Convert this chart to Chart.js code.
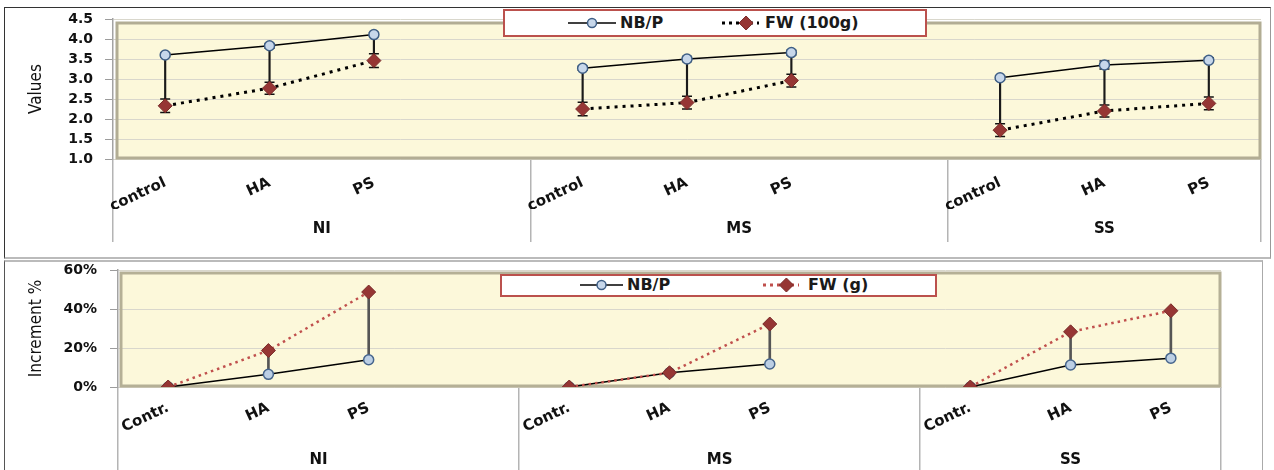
<!DOCTYPE html>
<html>
<head>
<meta charset="utf-8">
<title>NB/P and FW</title>
<script src="https://cdn.jsdelivr.net/npm/chart.js@4.4.1/dist/chart.umd.min.js"></script>
<style>
  body {
    margin: 0;
    width: 1274px;
    height: 470px;
    overflow: hidden;
    position: relative;
    background: #fff;
  }
  .box { position: absolute; box-sizing: border-box; }
  #box-top { left: 4px; top: 7px; width: 1267px; height: 252px; border: 1px solid #333; border-right-color: #999; border-bottom: 2px solid #bbb; }
  #box-bottom { left: 4px; top: 260px; width: 1259px; height: 230px; border: 1px solid #555; border-top: 2px solid #bbb; border-right-color: #aaa; }
  canvas { position: absolute; left: 0; }
  #chart-top { top: 0; }
  #chart-bottom { top: 258px; }
  .legend {
    position: absolute;
    background: #fff;
    border: 2px solid #bb514d;
    box-sizing: border-box;
    font: bold 16px 'DejaVu Sans', sans-serif;
    color: #1a1a1a;
  }
  .legend span, .legend svg { position: absolute; }
</style>
</head>
<body>
<div class="box" id="box-top"></div>
<div class="box" id="box-bottom"></div>
<canvas id="chart-top" width="1274" height="258"></canvas>
<canvas id="chart-bottom" width="1274" height="212"></canvas>
<div class="legend" id="legend-top" style="left:503px; top:9px; width:424px; height:28px;"></div>
<div class="legend" id="legend-bottom" style="left:500px; top:274px; width:437px; height:23px;"></div>

<script>
const groups = ['NI', 'MS', 'SS'];
const treatmentsTop = ['control', 'HA', 'PS'];
const treatmentsBottom = ['Contr.', 'HA', 'PS'];

const namesTop = ['NB/P', 'FW (100g)'];
const namesBottom = ['NB/P', 'FW (g)'];

// top panel, values per group: NI, MS, SS
const nbpValues = [3.60, 3.83, 4.11, 3.27, 3.50, 3.66, 3.03, 3.35, 3.47];
const nbpErrors = [0.05, 0.06, 0.05, 0.05, 0.06, 0.06, 0.05, 0.10, 0.06];
const fwValues = [2.33, 2.77, 3.46, 2.25, 2.41, 2.96, 1.72, 2.20, 2.39];
const fwErrors = [0.17, 0.15, 0.17, 0.17, 0.16, 0.16, 0.16, 0.15, 0.16];

// bottom panel, increment over control (%)
const nbpIncrement = [0, 6.5, 14.0, 0, 7.3, 11.8, 0, 11.3, 14.8];
const fwIncrement = [0, 18.7, 48.7, 0, 7.3, 32.3, 0, 28.3, 39.1];

const yTicksTop = [1.0, 1.5, 2.0, 2.5, 3.0, 3.5, 4.0, 4.5];
const yTicksBottom = [0, 20, 40, 60];

const tickFont = { family: 'DejaVu Sans', size: 14, weight: 'bold' };
const catFont = { family: 'DejaVu Sans', size: 15, weight: 'bold' };
const groupFont = { family: 'DejaVu Sans', size: 15, weight: 'bold' };
const titleFont = { family: "'Liberation Sans Narrow', 'DejaVu Sans Condensed', Roboto, sans-serif", size: 17 };


// each group gets its treatments plus one empty slot, except the last one
function slots(values) {
  let out = [];
  let n = values.length / groups.length;
  for (let g = 0; g < groups.length; g++) {
    for (let i = 0; i < n; i++) out.push(values[g * n + i]);
    if (g < groups.length - 1) out.push(null);
  }
  return out;
}

function slotLabels(treatments) {
  let out = [];
  groups.forEach((g, gi) => {
    treatments.forEach(t => out.push(t));
    if (gi < groups.length - 1) out.push('');
  });
  return out;
}

function groupStarts(treatments) {
  let starts = [];
  let pos = 0;
  groups.forEach((g, gi) => {
    starts.push(pos);
    pos += treatments.length + (gi < groups.length - 1 ? 1 : 0);
  });
  starts.push(pos);
  return starts;
}

function groupCenters(treatments) {
  let s = groupStarts(treatments);
  return groups.map((g, i) => (s[i] + s[i + 1]) / 2 - 0.5);
}

function pairs(a, b) {
  return a.map((v, i) => [Math.min(v, b[i]), Math.max(v, b[i])]);
}

function shift(values, errors, sign) {
  return values.map((v, i) => v + sign * errors[i]);
}


const plotFrame = {
  id: 'plotFrame',
  beforeDraw(chart, args, opts) {
    const { ctx, chartArea: a } = chart;
    ctx.save();
    ctx.fillStyle = opts.fill;
    ctx.fillRect(a.left + opts.inset, a.top + opts.inset, a.width - opts.inset - 1, a.height - opts.inset - 1);
    ctx.restore();
  },
  beforeDatasetsDraw(chart, args, opts) {
    const { ctx, chartArea: a } = chart;
    ctx.save();
    ctx.strokeStyle = opts.stroke;
    ctx.lineWidth = 3;
    ctx.strokeRect(a.left + opts.inset, a.top + opts.inset, a.width - opts.inset - 1, a.height - opts.inset - 1);
    ctx.restore();
  }
};


function errorDatasets(values, errors, color) {
  let cap = {
    type: 'line',
    xAxisID: 'x',
    showLine: false,
    pointStyle: 'line',
    pointRadius: 5,
    pointBorderColor: color,
    pointBorderWidth: 1.5,
    order: 3
  };
  return [
    { type: 'bar', xAxisID: 'x', data: slots(pairs(shift(values, errors, -1), shift(values, errors, 1))),
      backgroundColor: color, barThickness: 1.5, grouped: false, order: 4 },
    Object.assign({ data: slots(shift(values, errors, 1)) }, cap),
    Object.assign({ data: slots(shift(values, errors, -1)) }, cap)
  ];
}


function noPadding(s) {
  s.paddingTop = 0;
  s.paddingBottom = 0;
}

function buildOptions(cfg) {
  let starts = groupStarts(cfg.treatments);
  let centers = groupCenters(cfg.treatments);
  let isBoundary = (c) => c.index === undefined || starts.includes(c.index);

  return {
    responsive: false,
    animation: false,
    events: [],
    layout: { padding: cfg.padding },
    plugins: {
      legend: { display: false },
      tooltip: { enabled: false },
      plotFrame: { fill: '#fcf8da', stroke: cfg.frame, inset: cfg.inset }
    },
    scales: {
      x: {
        type: 'category',
        offset: true,
        border: { display: false },
        grid: {
          offset: true,
          drawOnChartArea: false,
          tickLength: cfg.sepLength,
          color: c => isBoundary(c) ? '#b4b4b4' : 'rgba(0,0,0,0)',
          lineWidth: 1.5
        },
        ticks: {
          autoSkip: false,
          minRotation: 25,
          maxRotation: 25,
          padding: cfg.labelPad,
          color: '#111',
          font: catFont
        },
        afterFit: s => { s.height = 50; }
      },
      x2: {
        type: 'linear',
        position: 'bottom',
        min: -0.5,
        max: starts[starts.length - 1] - 0.5,
        grid: { display: false, drawTicks: false, tickLength: 0 },
        border: { display: false },
        afterBuildTicks: s => { s.ticks = centers.map(v => ({ value: v })); },
        ticks: {
          autoSkip: false,
          maxRotation: 0,
          padding: cfg.groupPad,
          color: '#111',
          font: groupFont,
          callback: (v, i) => groups[i]
        },
        afterFit: s => { s.height = cfg.groupHeight; }
      },
      y: {
        min: cfg.yTicks[0],
        max: cfg.yTicks[cfg.yTicks.length - 1],
        afterBuildTicks: s => { s.ticks = cfg.yTicks.map(v => ({ value: v })); },
        border: { display: true, color: '#a3a3a3', width: 1.5 },
        grid: { color: '#d9d7cc', lineWidth: 1, tickLength: 8, tickColor: '#9c9c9c' },
        ticks: {
          autoSkip: false,
          padding: cfg.yPad,
          color: '#111',
          font: tickFont,
          callback: cfg.yFormat
        },
        title: {
          display: true,
          text: cfg.yTitle,
          color: '#111',
          font: titleFont,
          padding: { top: 22, bottom: 0 }
        },
        afterFit: s => { s.width = cfg.yWidth; noPadding(s); }
      }
    }
  };
}


// upper panel: absolute values
let topData = {
  labels: slotLabels(treatmentsTop),
  datasets: [
    { type: 'line', label: namesTop[0], xAxisID: 'x', data: slots(nbpValues),
      borderColor: '#000', borderWidth: 1.5,
      pointStyle: 'circle', pointRadius: 5, pointBorderWidth: 1.5,
      pointBackgroundColor: '#c7d7ea', pointBorderColor: '#3f5f86', order: 1 },
    { type: 'line', label: namesTop[1], xAxisID: 'x', data: slots(fwValues),
      borderColor: '#000', borderWidth: 3, borderDash: [3, 5],
      pointStyle: 'rectRot', pointRadius: 7, pointBorderWidth: 1,
      pointBackgroundColor: '#963634', pointBorderColor: '#7a2b29', order: 0 },
    { type: 'bar', xAxisID: 'x', data: slots(pairs(fwValues, nbpValues)),
      backgroundColor: '#1a1a1a', barThickness: 1.5, grouped: false, order: 5 }
  ].concat(errorDatasets(fwValues, fwErrors, '#111'), errorDatasets(nbpValues, nbpErrors, '#111'))
};

new Chart(document.getElementById('chart-top'), {
  type: 'line',
  data: topData,
  options: buildOptions({
    treatments: treatmentsTop,
    padding: { left: 4, right: 13, top: 19, bottom: 14 },
    frame: '#b2ad94',
    inset: 4,
    sepLength: 83,
    labelPad: -68,
    groupPad: 11,
    groupHeight: 35,
    yTicks: yTicksTop,
    yPad: 12,
    yWidth: 109,
    yTitle: 'Values',
    yFormat: v => v.toFixed(1)
  }),
  plugins: [plotFrame]
});


// lower panel: increment over control
let bottomData = {
  labels: slotLabels(treatmentsBottom),
  datasets: [
    { type: 'line', label: namesBottom[0], xAxisID: 'x', data: slots(nbpIncrement),
      borderColor: '#000', borderWidth: 1.5,
      pointStyle: 'circle', pointRadius: 5, pointBorderWidth: 1.5,
      pointBackgroundColor: '#bccfe4', pointBorderColor: '#46658c', order: 1 },
    { type: 'line', label: namesBottom[1], xAxisID: 'x', data: slots(fwIncrement),
      borderColor: '#c0504d', borderWidth: 2.5, borderDash: [2.5, 4],
      pointStyle: 'rectRot', pointRadius: 7, pointBorderWidth: 1,
      pointBackgroundColor: '#963634', pointBorderColor: '#7a2b29', order: 0 },
    { type: 'bar', xAxisID: 'x', data: slots(pairs(nbpIncrement, fwIncrement)),
      backgroundColor: '#555', barThickness: 2, grouped: false, order: 5 }
  ]
};

new Chart(document.getElementById('chart-bottom'), {
  type: 'line',
  data: bottomData,
  options: buildOptions({
    treatments: treatmentsBottom,
    padding: { left: 4, right: 53, top: 12, bottom: 0 },
    frame: '#b5b096',
    inset: 3,
    sepLength: 83,
    labelPad: -71,
    groupPad: 14,
    groupHeight: 33,
    yTicks: yTicksBottom,
    yPad: 13,
    yWidth: 114,
    yTitle: 'Increment %',
    yFormat: v => v + '%'
  }),
  plugins: [plotFrame]
});


// legends sit on top of the plot area, as in the original
function lineSample(width, color, dash, marker) {
  let dashAttr = dash ? ` stroke-dasharray="${dash}"` : '';
  let sw = dash ? 3 : 1.5;
  let m = width * (marker === 'circle' ? 0.5 : 0.65);
  let mark = marker === 'circle'
    ? `<circle cx="${m}" cy="7" r="4.5" fill="#c7d7ea" stroke="#3f5f86" stroke-width="1.5"/>`
    : `<polygon points="${m},0 ${m + 7},7 ${m},14 ${m - 7},7" fill="#963634" stroke="#7a2b29"/>`;
  return `<svg width="${width}" height="14" viewBox="0 0 ${width} 14">` +
    `<line x1="0" y1="7" x2="${width}" y2="7" stroke="${color}" stroke-width="${sw}"${dashAttr}/>` +
    mark + '</svg>';
}

function buildLegend(id, names, items, fwColor) {
  let el = document.getElementById(id);
  let html = '';
  items.forEach((it, i) => {
    let sample = i === 0 ? lineSample(it.w, '#000', null, 'circle') : lineSample(it.w, fwColor, '3 4', 'diamond');
    html += `<span style="left:${it.x}px; top:${it.y - 7}px;">${sample}</span>`;
    html += `<span style="left:${it.tx}px; top:${it.y - 11}px; line-height:22px;">${names[i]}</span>`;
  });
  el.innerHTML = html;
}

buildLegend('legend-top', namesTop, [
  { x: 63, w: 48, tx: 115, y: 12 },
  { x: 217, w: 37, tx: 260, y: 12 }
], '#000');

buildLegend('legend-bottom', namesBottom, [
  { x: 78, w: 43, tx: 125, y: 9 },
  { x: 261, w: 36, tx: 306, y: 9 }
], '#c0504d');
</script>
</body>
</html>
